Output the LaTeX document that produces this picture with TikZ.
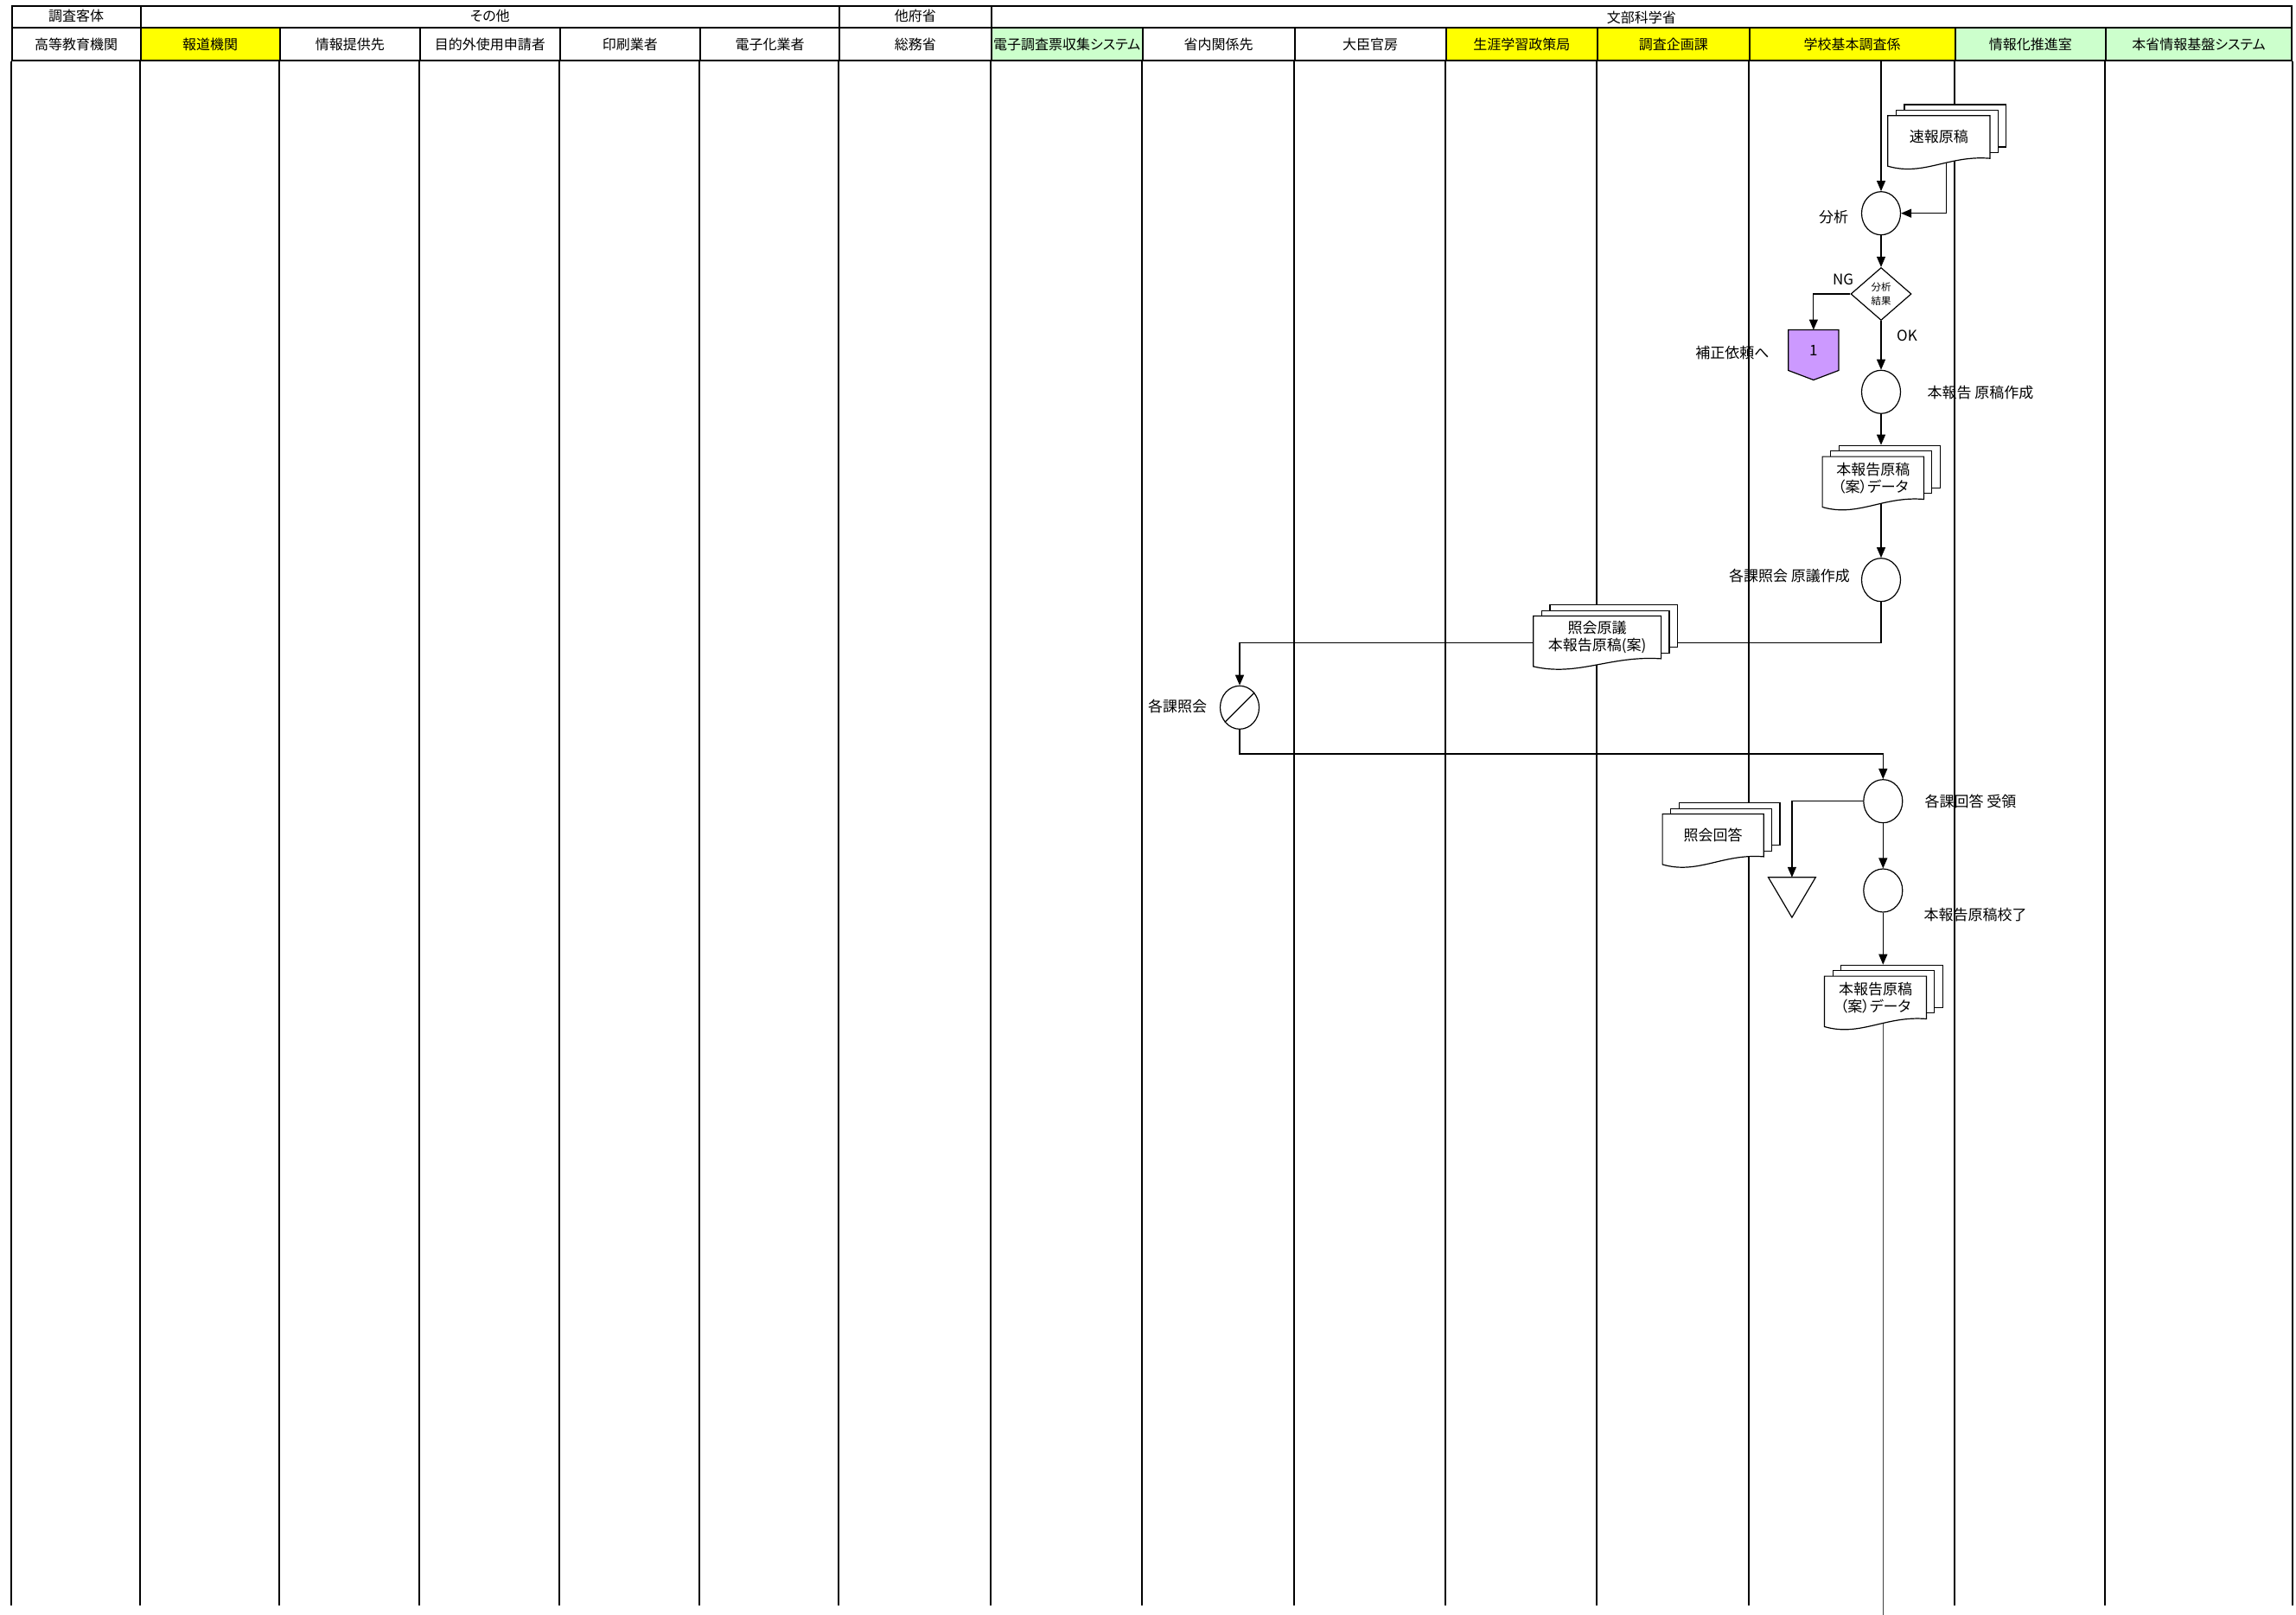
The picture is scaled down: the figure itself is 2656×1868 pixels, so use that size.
\documentclass[tikz,border=0pt]{standalone}
\usepackage{fontspec}
\setmainfont{Noto Sans CJK JP}[RawFeature=+palt]
\usetikzlibrary{shapes.geometric,arrows.meta,calc}
\pgfdeclarelayer{paper}
\pgfdeclarelayer{bg}
\pgfdeclarelayer{mid}
\pgfsetlayers{paper,bg,mid,main}
\definecolor{hyellow}{HTML}{FFFF00}
\definecolor{hgreen}{HTML}{CCFFCC}
\definecolor{offpurple}{HTML}{CC99FF}
\tikzset{
  hdr/.style={draw, line width=2pt, minimum height=38pt, inner sep=0pt, font=\fontsize{16}{18}\selectfont},
  grp/.style={draw, line width=2pt, minimum height=25pt, inner sep=0pt, font=\fontsize{16}{18}\selectfont},
  lane/.style={line width=2pt},
  flow/.style={line width=1.2pt, -{Triangle[length=12pt,width=10pt]}},
  flowline/.style={line width=1.2pt},
  proc/.style={ellipse, draw, fill=white, line width=1.2pt, minimum width=45pt, minimum height=50pt, inner sep=0pt},
  lbl/.style={font=\fontsize{17}{20}\selectfont, inner sep=0pt},
  doctext/.style={rectangle, minimum height=49pt, inner sep=0pt, align=center, font=\fontsize{17}{20}\selectfont},
  docback/.style={rectangle, draw, fill=white, line width=1.2pt, minimum height=49pt, inner sep=0pt},
  docline/.style={line width=1.2pt},
}
\newcommand\mydoc[5]{%
  \node[doctext, minimum width={#4*1pt}] (#1) at ({#2+#4/2},{#3+24.5}) {#5};
  \begin{pgfonlayer}{mid}
    \node[docback, minimum width={#4*1pt}] (#1b) at ({#2+19+#4/2},{#3-13+24.5}) {};
    \node[docback, minimum width={#4*1pt}] (#1m) at ({#2+9.5+#4/2},{#3-6.5+24.5}) {};
    \draw[docline, fill=white] (#1.north west) -- (#1.north east) -- (#1.south east)
      .. controls ($(#1.south west)+({0.6*#4},-4)$) and ($(#1.south west)+({0.35*#4},21)$) .. ($(#1.south west)+(0,9)$) -- cycle;
  \end{pgfonlayer}}
\begin{document}
\begin{tikzpicture}[x=1pt,y=-1pt]
\useasboundingbox (0,0) rectangle (2656,1868);
\begin{pgfonlayer}{paper}
  \fill[white] (0,0) rectangle (2656,1868);
\end{pgfonlayer}

% group header row
\foreach \a/\b/\t/\s in {13.6/162.6/調査客体/0, 162.6/971/その他/0, 971/1146.8/他府省/0, 1146.8/2651/文部科学省/-3}
  \node[grp, minimum width={(\b-\a)*1pt}, text depth={(3.5+\s)*1pt}] at ({(\a+\b)/2},19.5) {\t};

% lane header row
\foreach \a/\b/\t/\c [count=\i from 0] in {
  13.6/162.6/高等教育機関/white,
  162.6/323.5/報道機関/hyellow,
  323.5/486/情報提供先/white,
  486/647.5/目的外使用申請者/white,
  647.5/810/印刷業者/white,
  810/971/電子化業者/white,
  971/1146.8/総務省/white,
  1146.8/1321.5/電子調査票収集システム/hgreen,
  1321.5/1497.5/省内関係先/white,
  1497.5/1672.5/大臣官房/white,
  1672.5/1848/生涯学習政策局/hyellow,
  1848/2023.5/調査企画課/hyellow,
  2023.5/2261.5/学校基本調査係/hyellow,
  2261.5/2436/情報化推進室/hgreen,
  2436/2651/本省情報基盤システム/hgreen}
  \node[hdr, fill=\c, minimum width={(\b-\a)*1pt}] (h\i) at ({(\a+\b)/2},51) {\t};

% lane lines
\begin{pgfonlayer}{bg}
  \foreach \i in {0,...,14} \draw[lane] (h\i.south west) -- ++(0,1786);
  \draw[lane] (h14.south east) -- ++(0,1786);
\end{pgfonlayer}

% coordinates
\coordinate (start) at (2176,70);
\coordinate (bot) at (2178.3,1868);

% process circles
\node[proc] (c1) at (2176,246.7) {};
\node[proc] (c2) at (2176,453.3) {};
\node[proc] (c3) at (2176,670.7) {};
\node[proc] (c4) at (1434,818.3) {};
\draw[line width=1.2pt] (c4.225) -- (c4.45);
\node[proc] (c5) at (2178.3,926.7) {};
\node[proc] (c6) at (2178.3,1030) {};

% decision
\node[diamond, draw, fill=white, line width=1.2pt, minimum width=70pt, minimum height=61pt, inner sep=0pt, align=center, font=\fontsize{11.5}{16}\selectfont] (dm) at (2176,340) {分析\\結果};

% off-page connector
\node[inner sep=0pt, minimum width=57.7pt, minimum height=46.6pt, font=\fontsize{17}{20}\selectfont] (off) at (2097.85,405) {1};
\begin{pgfonlayer}{mid}
  \draw[line width=1.2pt, fill=offpurple] (off.north west) -- (off.north east) -- (off.south east) -- ($(off.south)+(0,11)$) -- (off.south west) -- cycle;
\end{pgfonlayer}

% storage triangle
\node[inner sep=0pt, minimum width=54.3pt, minimum height=46pt] (tri) at (2072.9,1038) {};
\begin{pgfonlayer}{mid}
  \draw[line width=1.2pt, fill=white] (tri.north west) -- (tri.north east) -- (tri.south) -- cycle;
\end{pgfonlayer}

% documents
\mydoc{d1}{2184}{134}{117.7}{速報原稿}
\mydoc{d2}{2108.3}{528.3}{117}{本報告原稿\\（案）データ}
\mydoc{d4}{1774}{712.7}{147.4}{照会原議\\本報告原稿(案)}
\mydoc{d5}{1923.3}{941.7}{116.7}{照会回答}
\mydoc{d3}{2110.7}{1129.3}{117.6}{本報告原稿\\（案）データ}

% labels
\node[lbl] (t1) at (2121,251) {分析};
\node[lbl] (tng) at (2132,323.3) {NG};
\node[lbl] (tok) at (2206,388) {OK};
\node[lbl] (t2) at (2004,408) {補正依頼へ};
\node[lbl] (t3) at (2291,454) {本報告 原稿作成};
\node[lbl] (t4) at (2070,666) {各課照会 原議作成};
\node[lbl] (t5) at (1362,816.7) {各課照会};
\node[lbl] (t6) at (2279.5,926.7) {各課回答 受領};
\node[lbl] (t7) at (2285,1058.3) {本報告原稿校了};

% connectors
\begin{pgfonlayer}{bg}
  \draw[flow] (start) -- (c1.north);
  \draw[flow] ($(d1.center)+(9,0)$) |- (c1.east);
  \draw[flow] (c1.south) -- (dm.north);
  \draw[flow] (dm.west) -| (off.north);
  \draw[flow] (dm.south) -- (c2.north);
  \draw[flow] (c2.south) -- (c2.south |- d2b.north);
  \draw[flow] (c3.north |- d2.center) -- (c3.north);
  \draw[flow] (c3.south) -- ++(0,47) -| (c4.north);
  \draw[flow] (c4.south) -- ++(0,28) -| (c5.north);
  \draw[flow] (c5.west) -| (tri.north);
  \draw[flow] (c5.south) -- (c6.north);
  \draw[flow] (c6.south) -- (c6.south |- d3b.north);
  \draw[line width=1pt, black!75] (c6.south |- d3.center) -- (bot);
\end{pgfonlayer}
\end{tikzpicture}
\end{document}
